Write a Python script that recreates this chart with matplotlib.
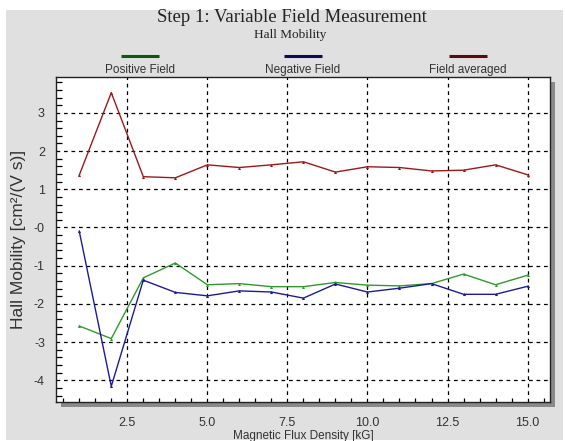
import numpy as np
import matplotlib.pyplot as plt
from matplotlib.patches import Rectangle
from matplotlib.ticker import MultipleLocator, FixedLocator
#
field_kg = [1, 2, 3, 4, 5, 6, 7, 8, 9, 10, 11, 12, 13, 14, 15]
positive_field = [-2.58, -2.91, -1.32, -0.93, -1.50, -1.47, -1.55, -1.55, -1.44, -1.51, -1.53, -1.47, -1.22, -1.50, -1.25]
negative_field = [-0.10, -4.16, -1.38, -1.70, -1.79, -1.66, -1.69, -1.85, -1.48, -1.69, -1.59, -1.47, -1.75, -1.75, -1.54]
field_averaged = [1.37, 3.53, 1.33, 1.30, 1.64, 1.57, 1.64, 1.72, 1.45, 1.59, 1.57, 1.48, 1.50, 1.64, 1.38]

x_ticks = [2.5, 5.0, 7.5, 10.0, 12.5, 15.0]
y_ticks = [3, 2, 1, 0, -1, -2, -3, -4]
y_tick_labels = ['3', '2', '1', '-0', '-1', '-2', '-3', '-4']

series_names = ['Positive Field', 'Negative Field', 'Field averaged']
line_colors = ['#2f9a2f', '#1c1c96', '#9a1a1a']
key_colors = ['#0a5a0a', '#0a0a5a', '#5a0a0a']
#
W, H = 565, 441
fig = plt.figure(figsize=(W / 100, H / 100), dpi=100)
fig.patch.set_facecolor('white')

def px(x0, y0, w, h):
	return [x0 / W, 1 - (y0 + h) / H, w / W, h / H]

# grey panel behind everything
panel = Rectangle((6 / W, 1 - 440 / H), 557 / W, 430 / H, transform=fig.transFigure,
	facecolor='#e0e0e0', edgecolor='none', zorder=-10)
fig.patches.append(panel)

ax_box = px(56, 77, 494, 325)
# drop shadow of the plot frame
shadow = Rectangle((ax_box[0] + 5 / W, ax_box[1] - 5 / H), ax_box[2], ax_box[3],
	transform=fig.transFigure, facecolor='#8a8a8a', edgecolor='none', zorder=-5)
fig.patches.append(shadow)

ax = fig.add_axes(ax_box)
ax.set_facecolor('white')
ax.set_xlim(0.274, 15.70)
ax.set_ylim(-4.57, 3.94)

series = [positive_field, negative_field, field_averaged]
for values, color in zip(series, line_colors):
	ax.plot(field_kg, values, color=color, lw=1.0, marker='^', ms=2.2, mew=0, zorder=3)

ax.xaxis.set_major_locator(FixedLocator(x_ticks))
ax.set_xticklabels(['%.1f' % v for v in x_ticks])
ax.xaxis.set_minor_locator(MultipleLocator(0.5))
ax.yaxis.set_major_locator(FixedLocator(y_ticks))
ax.set_yticklabels(y_tick_labels)
ax.yaxis.set_minor_locator(MultipleLocator(0.2))

ax.grid(True, which='major', color='black', ls=(0, (3, 3)), lw=0.9)
ax.tick_params(axis='both', which='major', length=0, labelsize=9, colors='#333333',
	labelfontfamily='Liberation Sans')
ax.tick_params(axis='x', which='major', pad=10.5)
ax.tick_params(axis='y', which='major', pad=8)
ax.tick_params(axis='x', which='minor', direction='in', length=3, width=0.9, bottom=True, top=False)
ax.tick_params(axis='y', which='minor', direction='in', length=4, width=0.9, left=True, right=False)
for side in ax.spines.values():
	side.set_color('#222222')
	side.set_linewidth(1.0)

ax.set_xlabel('Magnetic Flux Density [kG]', fontsize=8.5, color='#333333',
	family='Liberation Sans', labelpad=1)
ax.set_ylabel('Hall Mobility [cm²/(V s)]', fontsize=12.5, color='#333333',
	family='Liberation Sans', labelpad=6)

fig.text(292 / W, 1 - 17 / H, 'Step 1: Variable Field Measurement', ha='center', va='center',
	fontsize=13.5, family='Liberation Serif', color='#222222')
fig.text(290 / W, 1 - 35 / H, 'Hall Mobility', ha='center', va='center',
	fontsize=9.5, family='Liberation Serif', color='#222222')

# legend keys: line segment above each name
key_x = [140, 303, 468]
for name, color, cx in zip(series_names, key_colors, key_x):
	fig.add_artist(plt.Line2D([(cx - 19) / W, (cx + 19) / W], [1 - 56 / H, 1 - 56 / H],
		color=color, lw=2.2, solid_capstyle='butt'))
	fig.text(cx / W, 1 - 70 / H, name, ha='center', va='center', fontsize=8.5,
		family='Liberation Sans', color='#333333')

fig.savefig('out.png', dpi=100, facecolor=fig.get_facecolor())
